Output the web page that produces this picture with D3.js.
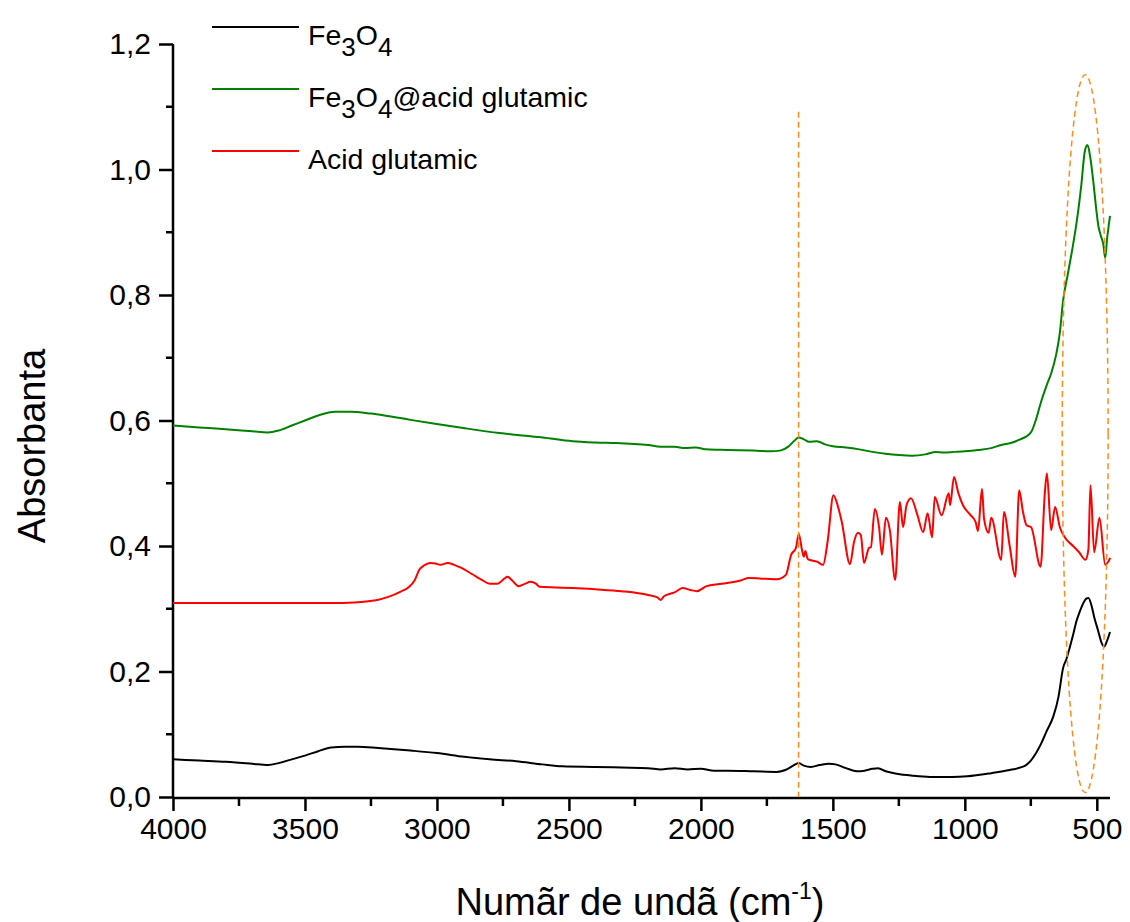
<!DOCTYPE html>
<html>
<head>
<meta charset="utf-8">
<script src="https://cdn.jsdelivr.net/npm/d3@7"></script>
<style>
  html, body { margin: 0; padding: 0; background: #fff; }
  svg { display: block; font-family: "Liberation Sans", Arial, sans-serif; }
</style>
</head>
<body>
<svg id="chart" width="1130" height="922"></svg>
<script>
// ---------------- data (wavenumber cm-1, absorbance) ----------------
const seriesNames = ["Fe3O4", "Fe3O4@acid glutamic", "Acid glutamic"];
const seriesColors = ["#000000", "#008000", "#ff0000"];

const fe3o4 = [
  [4000,0.060],[3900,0.058],[3800,0.056],[3700,0.053],[3640,0.051],[3600,0.054],[3550,0.060],
  [3500,0.066],[3450,0.073],[3400,0.079],[3350,0.080],[3300,0.080],[3222,0.078],[3100,0.074],
  [3000,0.070],[2896,0.064],[2800,0.060],[2700,0.057],[2600,0.052],[2524,0.049],[2400,0.048],
  [2300,0.047],[2200,0.046],[2152,0.044],[2100,0.046],[2050,0.044],[2000,0.045],[1950,0.042],
  [1900,0.042],[1800,0.041],[1712,0.040],[1680,0.043],[1650,0.050],[1629,0.054],[1610,0.050],
  [1583,0.048],[1550,0.051],[1515,0.053],[1490,0.052],[1450,0.046],[1409,0.041],[1380,0.042],
  [1350,0.045],[1329,0.046],[1300,0.041],[1257,0.037],[1200,0.034],[1132,0.032],[1050,0.032],
  [991,0.033],[900,0.038],[830,0.043],[790,0.047],[771,0.050],[750,0.058],[730,0.070],
  [711,0.085],[690,0.105],[665,0.128],[645,0.160],[628,0.205],[615,0.220],[604,0.236],
  [590,0.258],[578,0.279],[565,0.295],[551,0.309],[540,0.316],[532,0.317],[520,0.305],
  [510,0.287],[495,0.265],[483,0.247],[472,0.240],[462,0.248],[450,0.263]
];

const fe3o4Glu = [
  [4000,0.592],[3900,0.589],[3800,0.586],[3700,0.583],[3641,0.581],[3600,0.584],[3550,0.592],
  [3500,0.600],[3450,0.608],[3387,0.614],[3328,0.614],[3250,0.611],[3199,0.608],[3100,0.601],
  [2995,0.594],[2900,0.588],[2763,0.580],[2600,0.573],[2486,0.567],[2400,0.565],[2320,0.564],
  [2270,0.563],[2200,0.561],[2152,0.558],[2100,0.558],[2060,0.556],[2020,0.557],[1978,0.554],
  [1900,0.553],[1800,0.552],[1735,0.551],[1700,0.552],[1670,0.558],[1645,0.568],[1630,0.573],
  [1610,0.570],[1590,0.566],[1560,0.567],[1530,0.562],[1500,0.559],[1450,0.557],[1400,0.554],
  [1350,0.550],[1300,0.547],[1250,0.545],[1200,0.544],[1150,0.546],[1110,0.550],[1080,0.549],
  [1040,0.550],[1000,0.551],[950,0.553],[900,0.556],[862,0.561],[820,0.565],[790,0.570],
  [770,0.574],[748,0.582],[730,0.602],[711,0.630],[690,0.656],[673,0.675],[654,0.705],
  [640,0.740],[628,0.790],[609,0.835],[590,0.880],[575,0.920],[559,0.974],[545,1.030],
  [535,1.039],[525,1.020],[513,0.980],[503,0.940],[494,0.910],[485,0.895],[475,0.880],
  [468,0.859],[461,0.890],[455,0.910],[450,0.926]
];

const glutamic = [
  [4000,0.309],[3800,0.309],[3600,0.309],[3500,0.309],[3400,0.309],[3313,0.310],[3260,0.312],
  [3226,0.314],[3184,0.319],[3139,0.327],[3105,0.335],[3085,0.345],[3067,0.362],[3045,0.370],
  [3025,0.373],[3005,0.372],[2987,0.370],[2959,0.373],[2935,0.370],[2907,0.365],[2866,0.355],
  [2830,0.346],[2800,0.340],[2770,0.340],[2745,0.348],[2733,0.351],[2715,0.345],[2691,0.336],
  [2665,0.340],[2646,0.343],[2625,0.340],[2611,0.335],[2550,0.334],[2486,0.333],[2400,0.331],
  [2300,0.328],[2200,0.322],[2165,0.318],[2152,0.314],[2140,0.320],[2100,0.326],[2069,0.333],
  [2040,0.330],[2016,0.328],[1978,0.336],[1900,0.341],[1850,0.345],[1818,0.349],[1770,0.348],
  [1712,0.347],[1678,0.354],[1658,0.386],[1640,0.397],[1629,0.419],[1617,0.394],[1610,0.383],
  [1604,0.392],[1595,0.379],[1560,0.375],[1537,0.370],[1519,0.410],[1498,0.481],[1480,0.462],
  [1466,0.438],[1435,0.371],[1420,0.406],[1405,0.421],[1394,0.417],[1382,0.373],[1363,0.397],
  [1356,0.398],[1341,0.459],[1325,0.430],[1314,0.386],[1299,0.445],[1284,0.425],[1264,0.346],
  [1246,0.470],[1234,0.430],[1221,0.465],[1204,0.476],[1180,0.450],[1158,0.422],[1141,0.452],
  [1124,0.414],[1114,0.478],[1088,0.449],[1061,0.484],[1056,0.465],[1041,0.510],[1025,0.485],
  [1007,0.465],[980,0.450],[959,0.438],[950,0.424],[935,0.491],[927,0.443],[910,0.421],
  [900,0.445],[862,0.378],[852,0.454],[830,0.400],[809,0.351],[794,0.489],[780,0.455],
  [766,0.433],[749,0.430],[713,0.367],[697,0.484],[689,0.516],[673,0.425],[658,0.462],
  [640,0.430],[620,0.413],[590,0.400],[567,0.390],[543,0.378],[532,0.394],[524,0.497],
  [510,0.390],[490,0.445],[468,0.370],[455,0.376],[449,0.381]
];

const seriesData = [fe3o4, fe3o4Glu, glutamic];

const xMajorTicks = [4000, 3500, 3000, 2500, 2000, 1500, 1000, 500];
const yMajorTicks = [0, 0.2, 0.4, 0.6, 0.8, 1.0, 1.2];
const xDomain = [4000, 450];
const yDomain = [0, 1.2];

// annotation: dashed marker at 1630 cm-1 and ellipse around Fe-O band
const markerWn = 1630, markerTop = 1.092;
const ellipseCenter = [544, 0.579], ellipseHalf = [87, 0.572];

// ---------------- drawing ----------------
const svg = d3.select("#chart");
svg.append("rect").attr("width", 1130).attr("height", 922).attr("fill", "#fff");

const x = d3.scaleLinear().domain(xDomain).range([173, 1110]);
const y = d3.scaleLinear().domain(yDomain).range([797, 44]);

const fmt = d => d3.format(".1f")(d).replace(".", ",");
const tickFont = 30;

// x axis
const xAxis = d3.axisBottom(x).tickValues(xMajorTicks).tickSize(13).tickPadding(6).tickFormat(d3.format("d"));
const gx = svg.append("g").attr("transform", "translate(0,798)").call(xAxis);
gx.select(".domain").attr("stroke-width", 2.5).attr("d", `M${x(xDomain[0])},0H${x(xDomain[1])}`);
gx.selectAll(".tick line").attr("stroke-width", 2.5);
gx.selectAll(".tick text").attr("font-size", tickFont).attr("font-family", "Liberation Sans, Arial, sans-serif").attr("fill", "#000").attr("dy", "0.72em");
const xMinor = d3.range(3750, 450, -500);
svg.append("g").selectAll("line").data(xMinor).join("line")
  .attr("x1", d => x(d)).attr("x2", d => x(d)).attr("y1", 798).attr("y2", 806)
  .attr("stroke", "#000").attr("stroke-width", 2.5);

// y axis
const yAxis = d3.axisLeft(y).tickValues(yMajorTicks).tickSize(14).tickPadding(8).tickFormat(fmt);
const gy = svg.append("g").attr("transform", "translate(173,0)").call(yAxis);
gy.select(".domain").attr("stroke-width", 2.5).attr("d", `M0,${y(0)+1}V${y(1.2)}`);
gy.selectAll(".tick line").attr("stroke-width", 2.5);
gy.selectAll(".tick text").attr("font-size", tickFont).attr("font-family", "Liberation Sans, Arial, sans-serif").attr("fill", "#000");
const yMinor = [0.1, 0.3, 0.5, 0.7, 0.9, 1.1];
svg.append("g").selectAll("line").data(yMinor).join("line")
  .attr("x1", 173).attr("x2", 166).attr("y1", d => y(d)).attr("y2", d => y(d))
  .attr("stroke", "#000").attr("stroke-width", 2.5);

// axis titles
const xt = svg.append("text").attr("x", 640).attr("y", 915).attr("text-anchor", "middle")
  .attr("font-size", 38).attr("fill", "#000");
xt.append("tspan").text("Numãr de undã (cm");
xt.append("tspan").text("-1").attr("font-size", 23).attr("dy", -16);
xt.append("tspan").text(")").attr("dy", 16);

svg.append("text").attr("transform", "translate(45,446) rotate(-90)").attr("text-anchor", "middle")
  .attr("font-size", 38).attr("fill", "#000").text("Absorbanta");

// spectra
const line = d3.line().x(d => x(d[0])).y(d => y(d[1])).curve(d3.curveMonotoneX);
svg.append("g").selectAll("path").data(seriesData).join("path")
  .attr("d", line).attr("fill", "none")
  .attr("stroke", (d, i) => seriesColors[i]).attr("stroke-width", 2).attr("stroke-linejoin", "round");

// annotations
svg.append("line").attr("x1", x(markerWn)).attr("x2", x(markerWn))
  .attr("y1", y(markerTop)).attr("y2", y(0))
  .attr("stroke", "#ff8c1a").attr("stroke-width", 1.5).attr("stroke-dasharray", "6,4");
svg.append("ellipse")
  .attr("cx", x(ellipseCenter[0])).attr("cy", y(ellipseCenter[1]))
  .attr("rx", Math.abs(x(ellipseCenter[0] + ellipseHalf[0]) - x(ellipseCenter[0])))
  .attr("ry", Math.abs(y(ellipseCenter[1] + ellipseHalf[1]) - y(ellipseCenter[1])))
  .attr("fill", "none").attr("stroke", "#ff8c1a").attr("stroke-width", 1.5).attr("stroke-dasharray", "6,4");

// legend
const legendY = [27, 89, 151];
const lg = svg.append("g");
seriesNames.forEach((name, i) => {
  lg.append("line").attr("x1", 212).attr("x2", 299).attr("y1", legendY[i]).attr("y2", legendY[i])
    .attr("stroke", seriesColors[i]).attr("stroke-width", 2);
  const t = lg.append("text").attr("x", 308).attr("y", legendY[i] + 18).attr("font-size", 28.5).attr("fill", "#000");
  const parts = name.split(/(\d)/).filter(s => s.length);
  let shifted = false;
  parts.forEach(p => {
    if (/^\d$/.test(p)) {
      t.append("tspan").text(p).attr("font-size", 26).attr("dy", shifted ? 0 : 11);
      shifted = true;
    } else {
      t.append("tspan").text(p).attr("dy", shifted ? -11 : 0);
      shifted = false;
    }
  });
});
</script>
</body>
</html>
